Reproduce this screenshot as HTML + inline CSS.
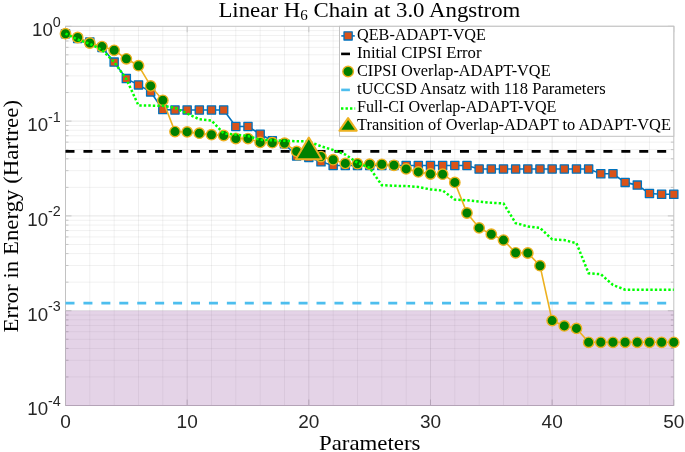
<!DOCTYPE html>
<html><head><meta charset="utf-8"><style>
html,body{margin:0;padding:0;background:#fff;width:685px;height:452px;overflow:hidden}
svg{display:block}
svg{will-change:transform}

</style></head><body>
<svg width="685" height="452" viewBox="0 0 685 452">
<path d="M89.83 26.3V405.5M114.16 26.3V405.5M138.50 26.3V405.5M162.83 26.3V405.5M211.49 26.3V405.5M235.82 26.3V405.5M260.16 26.3V405.5M284.49 26.3V405.5M333.15 26.3V405.5M357.48 26.3V405.5M381.82 26.3V405.5M406.15 26.3V405.5M454.81 26.3V405.5M479.14 26.3V405.5M503.48 26.3V405.5M527.81 26.3V405.5M576.47 26.3V405.5M600.80 26.3V405.5M625.14 26.3V405.5M649.47 26.3V405.5M65.5 92.56H673.8M65.5 75.87H673.8M65.5 64.02H673.8M65.5 54.84H673.8M65.5 47.33H673.8M65.5 40.98H673.8M65.5 35.49H673.8M65.5 30.64H673.8M65.5 187.36H673.8M65.5 170.67H673.8M65.5 158.82H673.8M65.5 149.64H673.8M65.5 142.13H673.8M65.5 135.78H673.8M65.5 130.29H673.8M65.5 125.44H673.8M65.5 282.16H673.8M65.5 265.47H673.8M65.5 253.62H673.8M65.5 244.44H673.8M65.5 236.93H673.8M65.5 230.58H673.8M65.5 225.09H673.8M65.5 220.24H673.8M65.5 376.96H673.8M65.5 360.27H673.8M65.5 348.42H673.8M65.5 339.24H673.8M65.5 331.73H673.8M65.5 325.38H673.8M65.5 319.89H673.8M65.5 315.04H673.8" stroke="#000" stroke-opacity="0.06" stroke-width="1" fill="none"/>
<path d="M187.16 26.3V405.5M308.82 26.3V405.5M430.48 26.3V405.5M552.14 26.3V405.5M65.5 121.10H673.8M65.5 215.90H673.8M65.5 310.70H673.8" stroke="#000" stroke-opacity="0.10" stroke-width="1" fill="none"/>
<path d="M65.50 405.5v-6.0M65.50 26.3v6.0M187.16 405.5v-6.0M187.16 26.3v6.0M308.82 405.5v-6.0M308.82 26.3v6.0M430.48 405.5v-6.0M430.48 26.3v6.0M552.14 405.5v-6.0M552.14 26.3v6.0M673.80 405.5v-6.0M673.80 26.3v6.0M65.5 26.30h6.0M673.8 26.30h-6.0M65.5 121.10h6.0M673.8 121.10h-6.0M65.5 215.90h6.0M673.8 215.90h-6.0M65.5 310.70h6.0M673.8 310.70h-6.0M65.5 405.50h6.0M673.8 405.50h-6.0M65.5 92.56h3M673.8 92.56h-3M65.5 75.87h3M673.8 75.87h-3M65.5 64.02h3M673.8 64.02h-3M65.5 54.84h3M673.8 54.84h-3M65.5 47.33h3M673.8 47.33h-3M65.5 40.98h3M673.8 40.98h-3M65.5 35.49h3M673.8 35.49h-3M65.5 30.64h3M673.8 30.64h-3M65.5 187.36h3M673.8 187.36h-3M65.5 170.67h3M673.8 170.67h-3M65.5 158.82h3M673.8 158.82h-3M65.5 149.64h3M673.8 149.64h-3M65.5 142.13h3M673.8 142.13h-3M65.5 135.78h3M673.8 135.78h-3M65.5 130.29h3M673.8 130.29h-3M65.5 125.44h3M673.8 125.44h-3M65.5 282.16h3M673.8 282.16h-3M65.5 265.47h3M673.8 265.47h-3M65.5 253.62h3M673.8 253.62h-3M65.5 244.44h3M673.8 244.44h-3M65.5 236.93h3M673.8 236.93h-3M65.5 230.58h3M673.8 230.58h-3M65.5 225.09h3M673.8 225.09h-3M65.5 220.24h3M673.8 220.24h-3M65.5 376.96h3M673.8 376.96h-3M65.5 360.27h3M673.8 360.27h-3M65.5 348.42h3M673.8 348.42h-3M65.5 339.24h3M673.8 339.24h-3M65.5 331.73h3M673.8 331.73h-3M65.5 325.38h3M673.8 325.38h-3M65.5 319.89h3M673.8 319.89h-3M65.5 315.04h3M673.8 315.04h-3" stroke="#c4c4c4" stroke-width="1" fill="none"/>
<rect x="65.5" y="26.3" width="608.3" height="379.2" fill="none" stroke="#c2c2c2" stroke-width="1"/>
<rect x="65.5" y="310.70" width="608.3" height="95.30" fill="#7e2f8e" fill-opacity="0.21"/>
<line x1="65.5" y1="151.4" x2="673.8" y2="151.4" stroke="#000" stroke-width="2.6" stroke-dasharray="9 8.93"/>
<line x1="65.5" y1="303.1" x2="673.8" y2="303.1" stroke="#4dbeee" stroke-width="2.6" stroke-dasharray="9 8.93"/>
<polyline points="65.50,33.70 77.67,38.40 89.83,42.00 102.00,47.50 114.16,62.10 126.33,78.60 138.50,84.90 150.66,91.90 162.83,109.60 174.99,110.00 187.16,110.00 199.33,110.00 211.49,110.00 223.66,110.00 235.82,126.50 247.99,126.50 260.16,134.20 272.32,140.80 284.49,143.80 296.65,156.00 308.82,157.40 320.99,161.80 333.15,165.50 345.32,165.50 357.48,165.50 369.65,165.50 381.82,165.50 393.98,165.50 406.15,165.50 418.31,165.50 430.48,165.50 442.65,165.50 454.81,165.50 466.98,165.50 479.14,169.00 491.31,169.00 503.48,169.00 515.64,169.00 527.81,169.00 539.97,169.00 552.14,169.00 564.31,169.00 576.47,169.00 588.64,169.00 600.80,173.80 612.97,173.80 625.14,182.40 637.30,185.10 649.47,193.50 661.63,194.30 673.80,194.30" fill="none" stroke="#0072bd" stroke-width="1.6"/>
<g fill="#d95319" stroke="#0072bd" stroke-width="1.3" stroke-linejoin="round"><rect x="61.40" y="29.60" width="8.2" height="8.2"/><rect x="73.57" y="34.30" width="8.2" height="8.2"/><rect x="85.73" y="37.90" width="8.2" height="8.2"/><rect x="97.90" y="43.40" width="8.2" height="8.2"/><rect x="110.06" y="58.00" width="8.2" height="8.2"/><rect x="122.23" y="74.50" width="8.2" height="8.2"/><rect x="134.40" y="80.80" width="8.2" height="8.2"/><rect x="146.56" y="87.80" width="8.2" height="8.2"/><rect x="158.73" y="105.50" width="8.2" height="8.2"/><rect x="170.89" y="105.90" width="8.2" height="8.2"/><rect x="183.06" y="105.90" width="8.2" height="8.2"/><rect x="195.23" y="105.90" width="8.2" height="8.2"/><rect x="207.39" y="105.90" width="8.2" height="8.2"/><rect x="219.56" y="105.90" width="8.2" height="8.2"/><rect x="231.72" y="122.40" width="8.2" height="8.2"/><rect x="243.89" y="122.40" width="8.2" height="8.2"/><rect x="256.06" y="130.10" width="8.2" height="8.2"/><rect x="268.22" y="136.70" width="8.2" height="8.2"/><rect x="280.39" y="139.70" width="8.2" height="8.2"/><rect x="292.55" y="151.90" width="8.2" height="8.2"/><rect x="304.72" y="153.30" width="8.2" height="8.2"/><rect x="316.89" y="157.70" width="8.2" height="8.2"/><rect x="329.05" y="161.40" width="8.2" height="8.2"/><rect x="341.22" y="161.40" width="8.2" height="8.2"/><rect x="353.38" y="161.40" width="8.2" height="8.2"/><rect x="365.55" y="161.40" width="8.2" height="8.2"/><rect x="377.72" y="161.40" width="8.2" height="8.2"/><rect x="389.88" y="161.40" width="8.2" height="8.2"/><rect x="402.05" y="161.40" width="8.2" height="8.2"/><rect x="414.21" y="161.40" width="8.2" height="8.2"/><rect x="426.38" y="161.40" width="8.2" height="8.2"/><rect x="438.55" y="161.40" width="8.2" height="8.2"/><rect x="450.71" y="161.40" width="8.2" height="8.2"/><rect x="462.88" y="161.40" width="8.2" height="8.2"/><rect x="475.04" y="164.90" width="8.2" height="8.2"/><rect x="487.21" y="164.90" width="8.2" height="8.2"/><rect x="499.38" y="164.90" width="8.2" height="8.2"/><rect x="511.54" y="164.90" width="8.2" height="8.2"/><rect x="523.71" y="164.90" width="8.2" height="8.2"/><rect x="535.87" y="164.90" width="8.2" height="8.2"/><rect x="548.04" y="164.90" width="8.2" height="8.2"/><rect x="560.21" y="164.90" width="8.2" height="8.2"/><rect x="572.37" y="164.90" width="8.2" height="8.2"/><rect x="584.54" y="164.90" width="8.2" height="8.2"/><rect x="596.70" y="169.70" width="8.2" height="8.2"/><rect x="608.87" y="169.70" width="8.2" height="8.2"/><rect x="621.04" y="178.30" width="8.2" height="8.2"/><rect x="633.20" y="181.00" width="8.2" height="8.2"/><rect x="645.37" y="189.40" width="8.2" height="8.2"/><rect x="657.53" y="190.20" width="8.2" height="8.2"/><rect x="669.70" y="190.20" width="8.2" height="8.2"/></g>
<polyline points="65.50,33.70 77.67,37.50 89.83,43.00 102.00,46.60 114.16,50.30 126.33,58.80 138.50,65.70 150.66,85.90 162.83,100.30 174.99,131.60 187.16,131.90 199.33,133.20 211.49,134.70 223.66,135.50 235.82,138.50 247.99,138.60 260.16,142.40 272.32,142.70 284.49,143.20 296.65,151.40 308.82,154.00 320.99,156.60 333.15,159.70 345.32,163.40 357.48,163.70 369.65,164.20 381.82,164.30 393.98,165.30 406.15,168.90 418.31,171.90 430.48,174.00 442.65,174.20 454.81,182.40 466.98,213.00 479.14,227.90 491.31,234.20 503.48,240.10 515.64,252.80 527.81,253.00 539.97,265.70 552.14,320.60 564.31,325.90 576.47,328.40 588.64,342.30 600.80,342.30 612.97,342.30 625.14,342.30 637.30,342.30 649.47,342.30 661.63,342.30 673.80,342.30" fill="none" stroke="#edb120" stroke-width="1.6"/>
<g fill="#008000" stroke="#edb120" stroke-width="1.4"><circle cx="65.50" cy="33.70" r="5.2"/><circle cx="77.67" cy="37.50" r="5.2"/><circle cx="89.83" cy="43.00" r="5.2"/><circle cx="102.00" cy="46.60" r="5.2"/><circle cx="114.16" cy="50.30" r="5.2"/><circle cx="126.33" cy="58.80" r="5.2"/><circle cx="138.50" cy="65.70" r="5.2"/><circle cx="150.66" cy="85.90" r="5.2"/><circle cx="162.83" cy="100.30" r="5.2"/><circle cx="174.99" cy="131.60" r="5.2"/><circle cx="187.16" cy="131.90" r="5.2"/><circle cx="199.33" cy="133.20" r="5.2"/><circle cx="211.49" cy="134.70" r="5.2"/><circle cx="223.66" cy="135.50" r="5.2"/><circle cx="235.82" cy="138.50" r="5.2"/><circle cx="247.99" cy="138.60" r="5.2"/><circle cx="260.16" cy="142.40" r="5.2"/><circle cx="272.32" cy="142.70" r="5.2"/><circle cx="284.49" cy="143.20" r="5.2"/><circle cx="296.65" cy="151.40" r="5.2"/><circle cx="308.82" cy="154.00" r="5.2"/><circle cx="320.99" cy="156.60" r="5.2"/><circle cx="333.15" cy="159.70" r="5.2"/><circle cx="345.32" cy="163.40" r="5.2"/><circle cx="357.48" cy="163.70" r="5.2"/><circle cx="369.65" cy="164.20" r="5.2"/><circle cx="381.82" cy="164.30" r="5.2"/><circle cx="393.98" cy="165.30" r="5.2"/><circle cx="406.15" cy="168.90" r="5.2"/><circle cx="418.31" cy="171.90" r="5.2"/><circle cx="430.48" cy="174.00" r="5.2"/><circle cx="442.65" cy="174.20" r="5.2"/><circle cx="454.81" cy="182.40" r="5.2"/><circle cx="466.98" cy="213.00" r="5.2"/><circle cx="479.14" cy="227.90" r="5.2"/><circle cx="491.31" cy="234.20" r="5.2"/><circle cx="503.48" cy="240.10" r="5.2"/><circle cx="515.64" cy="252.80" r="5.2"/><circle cx="527.81" cy="253.00" r="5.2"/><circle cx="539.97" cy="265.70" r="5.2"/><circle cx="552.14" cy="320.60" r="5.2"/><circle cx="564.31" cy="325.90" r="5.2"/><circle cx="576.47" cy="328.40" r="5.2"/><circle cx="588.64" cy="342.30" r="5.2"/><circle cx="600.80" cy="342.30" r="5.2"/><circle cx="612.97" cy="342.30" r="5.2"/><circle cx="625.14" cy="342.30" r="5.2"/><circle cx="637.30" cy="342.30" r="5.2"/><circle cx="649.47" cy="342.30" r="5.2"/><circle cx="661.63" cy="342.30" r="5.2"/><circle cx="673.80" cy="342.30" r="5.2"/></g>
<polyline points="65.50,33.70 77.67,39.50 89.83,43.80 102.00,50.00 114.16,62.00 126.33,79.00 138.50,105.50 150.66,105.60 162.83,105.80 174.99,107.80 187.16,113.50 199.33,119.30 211.49,120.50 223.66,133.50 235.82,134.60 247.99,136.00 260.16,139.80 272.32,140.30 284.49,140.80 296.65,141.20 308.82,141.40 320.99,146.30 333.15,150.00 345.32,154.50 357.48,162.80 369.65,167.80 381.82,185.20 393.98,185.80 406.15,186.00 418.31,187.00 430.48,189.40 442.65,190.50 454.81,199.60 466.98,200.30 479.14,201.50 491.31,202.80 503.48,203.40 515.64,223.10 527.81,226.40 539.97,227.80 552.14,239.40 564.31,240.10 576.47,243.20 588.64,273.30 600.80,274.20 612.97,285.00 625.14,289.70 637.30,289.70 649.47,289.70 661.63,289.70 673.80,289.70" fill="none" stroke="#00ff00" stroke-width="2.5" stroke-dasharray="2.4 2.1"/>
<polygon points="308.82,137.6 321.72,159.2 295.92,159.2" fill="#008000" stroke="#edb120" stroke-width="2" stroke-linejoin="round"/>
<rect x="339.5" y="26.3" width="334.30" height="110.00" fill="#fff" stroke="#c2c2c2" stroke-width="1"/>
<text x="357.0" y="39.50" font-family="&quot;Liberation Serif&quot;, serif" font-size="16" textLength="128.9" lengthAdjust="spacingAndGlyphs" fill="#000">QEB-ADAPT-VQE</text>
<text x="357.0" y="57.50" font-family="&quot;Liberation Serif&quot;, serif" font-size="16" textLength="124.5" lengthAdjust="spacingAndGlyphs" fill="#000">Initial CIPSI Error</text>
<text x="357.0" y="75.50" font-family="&quot;Liberation Serif&quot;, serif" font-size="16" textLength="193.6" lengthAdjust="spacingAndGlyphs" fill="#000">CIPSI Overlap-ADAPT-VQE</text>
<text x="357.0" y="93.50" font-family="&quot;Liberation Serif&quot;, serif" font-size="16" textLength="248.8" lengthAdjust="spacingAndGlyphs" fill="#000">tUCCSD Ansatz with 118 Parameters</text>
<text x="357.0" y="111.50" font-family="&quot;Liberation Serif&quot;, serif" font-size="16" textLength="199.4" lengthAdjust="spacingAndGlyphs" fill="#000">Full-CI Overlap-ADAPT-VQE</text>
<text x="357.0" y="129.50" font-family="&quot;Liberation Serif&quot;, serif" font-size="16" textLength="313.9" lengthAdjust="spacingAndGlyphs" fill="#000">Transition of Overlap-ADAPT to ADAPT-VQE</text>
<line x1="341.3" y1="35.90" x2="354.8" y2="35.90" stroke="#0072bd" stroke-width="1.6"/>
<rect x="344.00" y="31.80" width="8.2" height="8.2" fill="#d95319" stroke="#0072bd" stroke-width="1.3" stroke-linejoin="round"/>
<line x1="341.1" y1="53.90" x2="350" y2="53.90" stroke="#000" stroke-width="2.6"/>
<circle cx="348.1" cy="71.50" r="5.3" fill="#008000" stroke="#edb120" stroke-width="1.4"/>
<line x1="341.2" y1="89.90" x2="349.9" y2="89.90" stroke="#4dbeee" stroke-width="2.6"/>
<line x1="341" y1="108.50" x2="355.2" y2="108.50" stroke="#00ff00" stroke-width="2.5" stroke-dasharray="2.4 2.1"/>
<polygon points="348.10,118.1 356.70,130.7 339.50,130.7" fill="#008000" stroke="#edb120" stroke-width="2.1" stroke-linejoin="round"/>
<text x="65.50" y="428.2" text-anchor="middle" font-size="19" font-family="&quot;Liberation Sans&quot;, sans-serif" fill="#262626">0</text>
<text x="187.16" y="428.2" text-anchor="middle" font-size="19" font-family="&quot;Liberation Sans&quot;, sans-serif" fill="#262626">10</text>
<text x="308.82" y="428.2" text-anchor="middle" font-size="19" font-family="&quot;Liberation Sans&quot;, sans-serif" fill="#262626">20</text>
<text x="430.48" y="428.2" text-anchor="middle" font-size="19" font-family="&quot;Liberation Sans&quot;, sans-serif" fill="#262626">30</text>
<text x="552.14" y="428.2" text-anchor="middle" font-size="19" font-family="&quot;Liberation Sans&quot;, sans-serif" fill="#262626">40</text>
<text x="673.80" y="428.2" text-anchor="middle" font-size="19" font-family="&quot;Liberation Sans&quot;, sans-serif" fill="#262626">50</text>
<text x="60.8" y="36.10" text-anchor="end" font-size="18.7" font-family="&quot;Liberation Sans&quot;, sans-serif" fill="#262626">10<tspan dy="-9.3" font-size="14.3">0</tspan></text>
<text x="60.8" y="130.90" text-anchor="end" font-size="18.7" font-family="&quot;Liberation Sans&quot;, sans-serif" fill="#262626">10<tspan dy="-9.3" font-size="14.3">-1</tspan></text>
<text x="60.8" y="225.70" text-anchor="end" font-size="18.7" font-family="&quot;Liberation Sans&quot;, sans-serif" fill="#262626">10<tspan dy="-9.3" font-size="14.3">-2</tspan></text>
<text x="60.8" y="320.50" text-anchor="end" font-size="18.7" font-family="&quot;Liberation Sans&quot;, sans-serif" fill="#262626">10<tspan dy="-9.3" font-size="14.3">-3</tspan></text>
<text x="60.8" y="415.30" text-anchor="end" font-size="18.7" font-family="&quot;Liberation Sans&quot;, sans-serif" fill="#262626">10<tspan dy="-9.3" font-size="14.3">-4</tspan></text>
<text x="319.0" y="449.8" font-family="&quot;Liberation Serif&quot;, serif" font-size="21" textLength="101.5" lengthAdjust="spacingAndGlyphs" fill="#000">Parameters</text>
<text transform="translate(17.9 332.5) rotate(-90)" font-family="&quot;Liberation Serif&quot;, serif" font-size="20" textLength="232.5" lengthAdjust="spacingAndGlyphs" fill="#000">Error in Energy (Hartree)</text>
<text x="218.4" y="16.8" font-family="&quot;Liberation Serif&quot;, serif" font-size="21.3" textLength="302" lengthAdjust="spacingAndGlyphs" fill="#000">Linear H<tspan font-size="14" dy="3">6</tspan><tspan dy="-3"> Chain at 3.0 Angstrom</tspan></text>
</svg>
</body></html>
